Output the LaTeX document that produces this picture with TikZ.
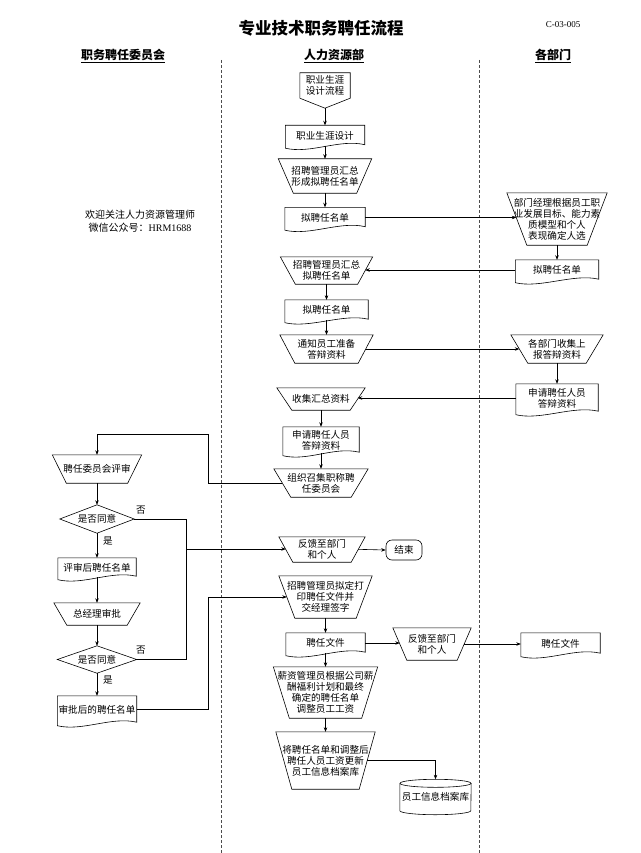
\documentclass[tikz,border=0pt]{standalone}
\usepackage{fontspec}
\setmainfont{Noto Sans CJK SC}
\newfontfamily\latinfont{Liberation Serif}
\usetikzlibrary{arrows.meta}

\begin{document}
\begin{tikzpicture}[x=1pt,y=-1pt,
    >={Stealth[length=4.5pt,width=3.5pt]},
    box/.style 2 args={inner sep=0pt,align=center,font=\fontsize{9.6}{11}\selectfont,minimum width=#1pt,minimum height=#2pt},
    outline/.style={line width=0.6pt},
    arr/.style={->,line width=0.6pt},
    term/.style={draw,rounded corners=6pt,line width=0.6pt},
    lane/.style={dash pattern=on 3pt off 2pt,gray!60!black,line width=0.5pt},
    head/.style={font=\fontsize{12}{14}\selectfont\bfseries},
    lbl/.style={font=\fontsize{9.6}{11}\selectfont}]
    \useasboundingbox (0,0) rectangle (640,853);
    \fill[white] (0,0) rectangle (640,853);

    % title and lanes
    \node (title) at (321,28) {\fontsize{16.5}{18}\selectfont\bfseries 专业技术职务聘任流程};
    \node[font=\fontsize{9}{10}\latinfont] (code) at (563,25) {C-03-005};
    \node[head] (hcom) at (123,56) {\underline{职务聘任委员会}};
    \node[head] (hhr) at (334,56) {\underline{人力资源部}};
    \node[head] (hdep) at (553,56) {\underline{各部门}};
    \draw[lane] (221,60) -- (221,853);
    \draw[lane] (479,60) -- (479,853);
    \node[font=\fontsize{10}{13}\selectfont,align=center] (note) at (140,221) {欢迎关注人力资源管理师\\微信公众号：{\latinfont HRM1688}};

    % middle lane
    \node[box={50}{25}] (start) at (325,85.5) {职业生涯\\设计流程};
    \node[box={79}{20}] (plan) at (325,135.5) {职业生涯设计};
    \node[box={93}{34}] (sum1) at (325,176) {招聘管理员汇总\\形成拟聘任名单};
    \node[box={80}{20}] (list1) at (325,217.5) {拟聘任名单};
    \node[box={92}{27}] (sum2) at (326.5,270.5) {招聘管理员汇总\\拟聘任名单};
    \node[box={83}{20}] (list3) at (326.5,310) {拟聘任名单};
    \node[box={93}{28}] (notify) at (326.5,349) {通知员工准备\\答辩资料};
    \node[box={88}{22}] (collect) at (321,399) {收集汇总资料};
    \node[box={76}{26}] (apply2) at (321,440) {申请聘任人员\\答辩资料};
    \node[box={94}{28}] (organize) at (321,483) {组织召集职称聘\\任委员会};
    \node[box={86}{25}] (fb1) at (322,549.5) {反馈至部门\\和个人};
    \node[box={36}{20},term] (end) at (404,550) {结束};
    \node[box={93}{42}] (draft) at (325.5,597) {招聘管理员拟定打\\印聘任文件并\\交经理签字};
    \node[box={79}{20}] (doc1) at (325.5,643) {聘任文件};
    \node[box={78}{32}] (fb2) at (432,644) {反馈至部门\\和个人};
    \node[box={104}{51}] (salary) at (325.5,692.5) {薪资管理员根据公司薪\\酬福利计划和最终\\确定的聘任名单\\调整员工工资};
    \node[box={99}{57}] (update) at (325.5,760.5) {将聘任名单和调整后\\聘任人员工资更新\\员工信息档案库};
    \node[box={71}{27}] (archive) at (435.5,797) {员工信息档案库};

    % right lane
    \node[box={100}{52}] (pick) at (557,219) {部门经理根据员工职\\业发展目标、能力素\\质模型和个人\\表现确定人选};
    \node[box={83}{20}] (list2) at (557,270) {拟聘任名单};
    \node[box={92}{28}] (gather) at (557,349) {各部门收集上\\报答辩资料};
    \node[box={82}{28}] (apply1) at (557,398) {申请聘任人员\\答辩资料};
    \node[box={79}{21}] (doc2) at (560.5,643.5) {聘任文件};

    % left lane
    \node[box={89}{28}] (review) at (97,469) {聘任委员会评审};
    \node[box={74}{28}] (agree1) at (97,519) {是否同意};
    \node[box={78}{19}] (revlist) at (97,567.5) {评审后聘任名单};
    \node[box={86}{22}] (gm) at (97,614) {总经理审批};
    \node[box={79}{27}] (agree2) at (97,659.5) {是否同意};
    \node[box={79}{27}] (final) at (97,709.5) {审批后的聘任名单};
    \node[lbl] (no1) at (141,510) {否};
    \node[lbl] (yes1) at (108,541) {是};
    \node[lbl] (no2) at (141,650) {否};
    \node[lbl] (yes2) at (108,680) {是};

    % outlines
    \draw[outline] (start.north west) -- (start.north east) -- (start.south east) -- ([yshift=-10pt]start.south) -- (start.south west) -- cycle;
    \foreach \n in {plan,list1,list2,list3,apply1,apply2,revlist,final,doc1,doc2}
        \draw[outline] (\n.north west) -- (\n.north east) -- ([yshift=1pt]\n.south east) .. controls +(-25pt,6pt) and +(25pt,-6pt) .. ([yshift=-2.5pt]\n.south west) -- cycle;
    \foreach \n/\d in {sum1/15,pick/20,sum2/15,notify/15,gather/17,collect/15,organize/17,review/14,gm/13,fb1/14,draft/16,fb2/14,salary/16,update/16}
        \draw[outline] (\n.north west) -- (\n.north east) -- ([xshift=-\d pt]\n.south east) -- ([xshift=\d pt]\n.south west) -- cycle;
    \foreach \n in {agree1,agree2}
        \draw[outline] (\n.north) -- (\n.east) -- (\n.south) -- (\n.west) -- cycle;
    \draw[outline] (archive.north west) -- (archive.south west) arc[start angle=180,end angle=360,x radius=35.5pt,y radius=4pt] -- (archive.north east);
    \draw[outline] (archive.north) ellipse [x radius=35.5pt,y radius=4pt];

    % connectors
    \coordinate (turn1) at (208,434);
    \coordinate (join) at (186,549);
    \coordinate (turn2) at (208,597);
    \draw[arr] ([yshift=-10pt]start.south) -- (plan.north);
    \draw[arr] (plan.south) -- (sum1.north);
    \draw[arr] (sum1.south) -- (list1.north);
    \draw[arr,shorten >=-9.5pt] (list1.east) -- (list1.east -| pick.west);
    \draw[arr] (pick.south) -- (list2.north);
    \draw[arr,shorten >=-7.5pt] (list2.west) -- (list2.west -| sum2.east);
    \draw[arr] (sum2.south) -- (list3.north);
    \draw[arr] (list3.south) -- (notify.north);
    \draw[arr,shorten <=-7.5pt,shorten >=-8.5pt] (notify.east) -- (gather.west);
    \draw[arr] (gather.south) -- (apply1.north);
    \draw[arr,shorten >=-7.5pt] (apply1.west) -- (apply1.west -| collect.east);
    \draw[arr] (collect.south) -- (apply2.north);
    \draw[arr] (apply2.south) -- (organize.north);
    \draw[arr,shorten <=-8.5pt] (organize.west) -| (turn1) -| (review.north);
    \draw[arr] (review.south) -- (agree1.north);
    \draw[arr] (agree1.south) -- (revlist.north);
    \draw[arr] (revlist.south) -- (gm.north);
    \draw[arr] (gm.south) -- (agree2.north);
    \draw[arr] (agree2.south) -- (final.north);
    \draw[outline] (agree1.east) -| (join);
    \draw[outline] (agree2.east) -| (join);
    \draw[arr,shorten >=-7pt] (join) -- (join -| fb1.west);
    \draw[arr,shorten <=-7pt] (fb1.east) -- (end.west);
    \draw[arr,shorten >=-8pt] (final.east) -| (turn2) -- (turn2 -| draft.west);
    \draw[arr] (draft.south) -- (doc1.north);
    \draw[arr,shorten >=-7pt] (doc1.east) -- (doc1.east -| fb2.west);
    \draw[arr,shorten <=-7pt] (fb2.east) -- (fb2.east -| doc2.west);
    \draw[arr] (doc1.south) -- (salary.north);
    \draw[arr] (salary.south) -- (update.north);
    \draw[arr,shorten <=-8pt] (update.east) -| ([yshift=4pt]archive.north);
\end{tikzpicture}
\end{document}
